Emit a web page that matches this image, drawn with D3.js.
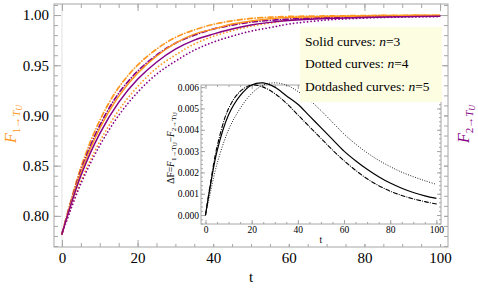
<!DOCTYPE html>
<html>
<head>
<meta charset="utf-8">
<script src="https://cdnjs.cloudflare.com/ajax/libs/d3/7.8.5/d3.min.js"></script>
<style>
body { margin: 0; background: #fff; }
svg { display: block; font-family: "Liberation Serif", "DejaVu Serif", serif; }
svg text { font-family: "Liberation Serif", "DejaVu Serif", serif; }
</style>
</head>
<body>
<div id="chart"></div>
<script>
// main plot: fidelities vs t
var tMain = [0, 5, 10, 15, 20, 25, 30, 35, 40, 45, 50, 55, 60, 70, 80, 90, 100];
var f1Solid = [0.782, 0.843, 0.887, 0.919, 0.942, 0.959, 0.972, 0.981, 0.986, 0.991, 0.994, 0.9963, 0.9975, 0.9986, 0.9990, 0.9994, 0.9996];
var f2Solid = [0.782, 0.840, 0.882, 0.913, 0.936, 0.953, 0.966, 0.975, 0.981, 0.986, 0.990, 0.9927, 0.9945, 0.9965, 0.9975, 0.9983, 0.9988];
var f1Dotted = [0.782, 0.8344, 0.874, 0.905, 0.9287, 0.9471, 0.9602, 0.9711, 0.9788, 0.9844, 0.9889, 0.9919, 0.9948, 0.9979, 0.9993, 0.9998, 0.9999];
var f2Dotted = [0.782, 0.832, 0.870, 0.900, 0.923, 0.941, 0.954, 0.965, 0.973, 0.979, 0.984, 0.9875, 0.991, 0.995, 0.997, 0.998, 0.9985];
var f1Dashdot = [0.782, 0.8482, 0.895, 0.9278, 0.9501, 0.966, 0.9777, 0.9852, 0.9907, 0.9942, 0.9966, 0.9979, 0.9986, 0.9991, 0.9995, 0.9998, 0.9998];
var f2Dashdot = [0.782, 0.845, 0.890, 0.922, 0.944, 0.960, 0.972, 0.980, 0.986, 0.990, 0.993, 0.9948, 0.996, 0.9975, 0.9984, 0.999, 0.9993];

// inset: difference F1 - F2
var tInset = [0, 2, 5, 10, 15, 20, 25, 30, 35, 40, 45, 50, 55, 60, 65, 70, 75, 80, 85, 90, 95, 100];
var dSolid = [0, 0.0013, 0.0030, 0.0047, 0.0056, 0.0061, 0.0062, 0.0060, 0.0056, 0.0052, 0.00465, 0.0041, 0.00355, 0.0030, 0.00255, 0.00215, 0.0018, 0.0015, 0.00126, 0.00106, 0.0009, 0.00078];
var dDotted = [0, 0.0010, 0.0024, 0.0040, 0.0050, 0.0057, 0.0061, 0.0062, 0.0061, 0.0058, 0.0054, 0.0049, 0.00435, 0.0038, 0.00333, 0.00292, 0.00257, 0.00227, 0.00201, 0.0018, 0.00161, 0.00144];
var dDashdot = [0, 0.0014, 0.0032, 0.0050, 0.0058, 0.0061, 0.0060, 0.0057, 0.00525, 0.0047, 0.00415, 0.0036, 0.00305, 0.00255, 0.0021, 0.0017, 0.00138, 0.00112, 0.00092, 0.00076, 0.00063, 0.00052];

// ticks
var mainXTicks = [0, 20, 40, 60, 80, 100];
var mainYTicks = [0.80, 0.85, 0.90, 0.95, 1.00];
var insetXTicks = [0, 20, 40, 60, 80, 100];
var insetYTicks = [0, 0.001, 0.002, 0.003, 0.004, 0.005, 0.006];

var legendLines = [["Solid curves: ", "3"], ["Dotted curves: ", "4"], ["Dotdashed curves: ", "5"]];

var ORANGE = "#ff961e", PURPLE = "#850087", FRAME = "#a6a6a6";
var DOTTED = "0.1,3.4", DASHDOT = "5,2.6,0.1,2.6";

var svg = d3.select("#chart").append("svg")
    .attr("width", 478)
    .attr("height", 289);

/**
 * Draws a Mathematica-like frame with inward ticks on all four sides
 */
function drawFrame(g, x, y, o)
{
    var x0 = x.range()[0], x1 = x.range()[1];
    var y0 = y.range()[0], y1 = y.range()[1];

    function ticks(axis, tx, ty, values, len, fmt) {
        var a = g.append("g")
            .attr("transform", "translate(" + tx + "," + ty + ")")
            .call(axis.tickValues(values).tickSize(-len).tickPadding(o.pad).tickFormat(fmt));
        a.attr("font-family", null).attr("font-size", null);
        a.select(".domain").remove();
        a.selectAll("line").attr("stroke", FRAME);
        a.selectAll("text").attr("fill", "#000").style("font-size", o.fs + "px");
        return a;
    }
    var none = function() { return ""; };

    // minor
    ticks(d3.axisBottom(x), 0, y0, o.xMinor, o.minor, none);
    ticks(d3.axisTop(x), 0, y1, o.xMinor, o.minor, none);
    ticks(d3.axisLeft(y), x0, 0, o.yMinor, o.minor, none);
    ticks(d3.axisRight(y), x1, 0, o.yMinor, o.minor, none);
    // major
    ticks(d3.axisBottom(x), 0, y0, o.xTicks, o.major, o.xFmt);
    ticks(d3.axisTop(x), 0, y1, o.xTicks, o.major, none);
    ticks(d3.axisLeft(y), x0, 0, o.yTicks, o.major, o.yFmt);
    ticks(d3.axisRight(y), x1, 0, o.yTicks, o.major, none);

    g.append("rect")
        .attr("x", x0).attr("y", y1)
        .attr("width", x1 - x0).attr("height", y0 - y1)
        .attr("fill", "none")
        .attr("stroke", FRAME)
        .attr("stroke-width", 1);
}

function range(a, b, s) {
    var r = [];
    for (var v = a; v <= b + 1e-9; v += s) r.push(+v.toFixed(6));
    return r;
}

// ---------- main plot ----------
var x = d3.scaleLinear().domain([-2.1, 102.1]).range([54, 448]);
var y = d3.scaleLinear().domain([0.769, 1.011]).range([247, 4]);

var main = svg.append("g");

// faint axis line at t = 0
main.append("line")
    .attr("x1", x(0)).attr("x2", x(0))
    .attr("y1", y.range()[1]).attr("y2", y.range()[0])
    .attr("stroke", "#e2e2e2");

drawFrame(main, x, y, {
    xTicks: mainXTicks, yTicks: mainYTicks,
    xMinor: range(0, 100, 5), yMinor: range(0.77, 1.01, 0.01),
    major: 7, minor: 4, pad: 5, fs: 15,
    xFmt: d3.format("d"), yFmt: d3.format(".2f")
});

main.append("clipPath").attr("id", "clipMain")
    .append("rect").attr("x", 54).attr("y", 4).attr("width", 394).attr("height", 243);

var line = d3.line()
    .x(function(d) { return x(d[0]); })
    .y(function(d) { return y(d[1]); })
    .curve(d3.curveCatmullRom.alpha(0.5));

var mainSeries = [
    {v: f1Dotted, c: ORANGE, dash: DOTTED},
    {v: f2Dotted, c: PURPLE, dash: DOTTED},
    {v: f1Dashdot, c: ORANGE, dash: DASHDOT},
    {v: f2Dashdot, c: PURPLE, dash: DASHDOT},
    {v: f1Solid, c: ORANGE, dash: null},
    {v: f2Solid, c: PURPLE, dash: null}
];

main.append("g").attr("clip-path", "url(#clipMain)")
    .selectAll("path")
    .data(mainSeries)
    .enter().append("path")
    .attr("d", function(s) { return line(d3.zip(tMain, s.v)); })
    .attr("fill", "none")
    .attr("stroke", function(s) { return s.c; })
    .attr("stroke-width", function(s) { return s.dash ? 1.7 : 1.5; })
    .attr("stroke-linecap", function(s) { return s.dash ? "round" : "butt"; })
    .attr("stroke-dasharray", function(s) { return s.dash; });

main.append("text")
    .attr("x", x(50)).attr("y", 282)
    .attr("text-anchor", "middle")
    .style("font-size", "15px")
    .text("t");

/**
 * Rotated label F_{k->T_U}
 */
function fLabel(cx, cy, k, color)
{
    var t = svg.append("text")
        .attr("transform", "translate(" + cx + "," + cy + ") rotate(-90)")
        .attr("text-anchor", "middle")
        .attr("fill", color)
        .style("font-size", "16px");
    t.append("tspan").style("font-style", "italic").text("F");
    t.append("tspan").attr("dy", 4).style("font-size", "11px").text(k + "\u2192");
    t.append("tspan").style("font-size", "11px").style("font-style", "italic").text("T");
    t.append("tspan").attr("dy", 2).style("font-size", "8px").style("font-style", "italic").text("U");
}
fLabel(16, 124, "1", ORANGE);
fLabel(469, 124, "2", PURPLE);

// ---------- inset ----------
var xi = d3.scaleLinear().domain([-1.95, 102]).range([201, 441]);
var yi = d3.scaleLinear().domain([-0.00042, 0.0061]).range([224, 85]);

var inset = svg.append("g");
inset.append("rect")
    .attr("x", 160).attr("y", 78).attr("width", 284).attr("height", 166)
    .attr("fill", "#fff");

drawFrame(inset, xi, yi, {
    xTicks: insetXTicks, yTicks: insetYTicks,
    xMinor: range(0, 100, 5), yMinor: range(-0.0004, 0.006, 0.0002),
    major: 4, minor: 2, pad: 2, fs: 9.5,
    xFmt: d3.format("d"), yFmt: d3.format(".3f")
});

var lineI = d3.line()
    .x(function(d) { return xi(d[0]); })
    .y(function(d) { return yi(d[1]); })
    .curve(d3.curveCatmullRom.alpha(0.5));

var insetSeries = [
    {v: dDotted, w: 1, dash: "0.1,2.4"},
    {v: dDashdot, w: 1.1, dash: "4,2,0.1,2"},
    {v: dSolid, w: 1.2, dash: null}
];

inset.append("g").selectAll("path")
    .data(insetSeries)
    .enter().append("path")
    .attr("d", function(s) { return lineI(d3.zip(tInset, s.v)); })
    .attr("fill", "none")
    .attr("stroke", "#000")
    .attr("stroke-width", function(s) { return s.w; })
    .attr("stroke-linecap", function(s) { return s.dash ? "round" : "butt"; })
    .attr("stroke-dasharray", function(s) { return s.dash; });

inset.append("text")
    .attr("x", xi(50)).attr("y", 243)
    .attr("text-anchor", "middle")
    .style("font-size", "9.5px")
    .text("t");

var dl = inset.append("text")
    .attr("transform", "translate(174,148) rotate(-90)")
    .attr("text-anchor", "middle")
    .style("font-size", "9.5px");
dl.append("tspan").text("\u0394F=");
dl.append("tspan").style("font-style", "italic").text("F");
dl.append("tspan").attr("dy", 2).style("font-size", "7px").text("1\u2192T");
dl.append("tspan").attr("dy", 1).style("font-size", "5.5px").text("U");
dl.append("tspan").attr("dy", -3).text("\u2212");
dl.append("tspan").style("font-style", "italic").text("F");
dl.append("tspan").attr("dy", 2).style("font-size", "7px").text("2\u2192T");
dl.append("tspan").attr("dy", 1).style("font-size", "5.5px").text("U");

// ---------- legend ----------
var legend = svg.append("g");
legend.append("rect")
    .attr("x", 300).attr("y", 27).attr("width", 142).attr("height", 75)
    .attr("fill", "#fdfde2");

legend.selectAll("text")
    .data(legendLines)
    .enter().append("text")
    .attr("x", 305)
    .attr("y", function(d, i) { return 46 + i * 22.3; })
    .style("font-size", "13.5px")
    .each(function(d) {
        var t = d3.select(this);
        t.append("tspan").text(d[0]);
        t.append("tspan").style("font-style", "italic").text("n");
        t.append("tspan").text("=" + d[1]);
    });
</script>
</body>
</html>
